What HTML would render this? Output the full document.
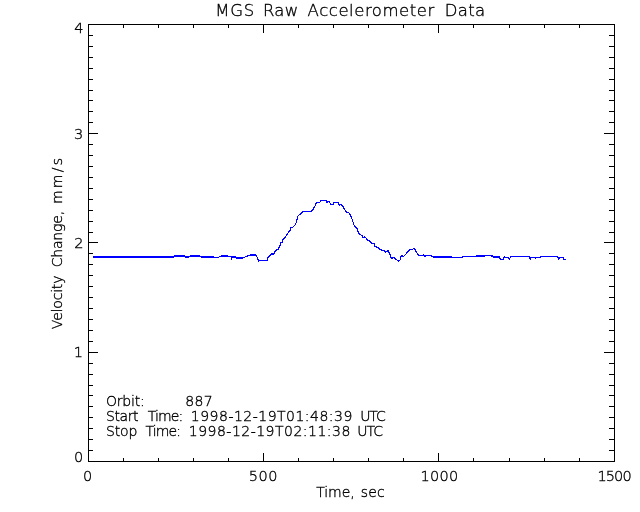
<!DOCTYPE html>
<html lang="en"><head><meta charset="utf-8"><title>MGS Raw Accelerometer Data</title>
<style>html,body{margin:0;padding:0;background:#fff}body{width:640px;height:512px;overflow:hidden}svg{display:block}text{font-family:"DejaVu Sans Light","DejaVu Sans","Liberation Sans",sans-serif;font-weight:200;fill:#000;stroke:#000;stroke-width:0.35px}</style></head><body>
<svg width="640" height="512" viewBox="0 0 640 512">
<rect width="640" height="512" fill="#fff"/>
<g fill="#000" shape-rendering="crispEdges">
<rect x="88" y="24" width="527" height="1"/>
<rect x="88" y="461" width="527" height="1"/>
<rect x="88" y="24" width="1" height="438"/>
<rect x="614" y="24" width="1" height="438"/>
<rect x="123" y="458" width="1" height="3"/>
<rect x="123" y="25" width="1" height="3"/>
<rect x="158" y="458" width="1" height="3"/>
<rect x="158" y="25" width="1" height="3"/>
<rect x="193" y="458" width="1" height="3"/>
<rect x="193" y="25" width="1" height="3"/>
<rect x="228" y="458" width="1" height="3"/>
<rect x="228" y="25" width="1" height="3"/>
<rect x="263" y="453" width="1" height="8"/>
<rect x="263" y="25" width="1" height="8"/>
<rect x="298" y="458" width="1" height="3"/>
<rect x="298" y="25" width="1" height="3"/>
<rect x="333" y="458" width="1" height="3"/>
<rect x="333" y="25" width="1" height="3"/>
<rect x="368" y="458" width="1" height="3"/>
<rect x="368" y="25" width="1" height="3"/>
<rect x="403" y="458" width="1" height="3"/>
<rect x="403" y="25" width="1" height="3"/>
<rect x="438" y="453" width="1" height="8"/>
<rect x="438" y="25" width="1" height="8"/>
<rect x="473" y="458" width="1" height="3"/>
<rect x="473" y="25" width="1" height="3"/>
<rect x="509" y="458" width="1" height="3"/>
<rect x="509" y="25" width="1" height="3"/>
<rect x="544" y="458" width="1" height="3"/>
<rect x="544" y="25" width="1" height="3"/>
<rect x="579" y="458" width="1" height="3"/>
<rect x="579" y="25" width="1" height="3"/>
<rect x="89" y="450" width="4" height="1"/>
<rect x="609" y="450" width="5" height="1"/>
<rect x="89" y="439" width="4" height="1"/>
<rect x="609" y="439" width="5" height="1"/>
<rect x="89" y="428" width="4" height="1"/>
<rect x="609" y="428" width="5" height="1"/>
<rect x="89" y="417" width="4" height="1"/>
<rect x="609" y="417" width="5" height="1"/>
<rect x="89" y="406" width="4" height="1"/>
<rect x="609" y="406" width="5" height="1"/>
<rect x="89" y="395" width="4" height="1"/>
<rect x="609" y="395" width="5" height="1"/>
<rect x="89" y="385" width="4" height="1"/>
<rect x="609" y="385" width="5" height="1"/>
<rect x="89" y="374" width="4" height="1"/>
<rect x="609" y="374" width="5" height="1"/>
<rect x="89" y="363" width="4" height="1"/>
<rect x="609" y="363" width="5" height="1"/>
<rect x="89" y="352" width="9" height="1"/>
<rect x="604" y="352" width="10" height="1"/>
<rect x="89" y="341" width="4" height="1"/>
<rect x="609" y="341" width="5" height="1"/>
<rect x="89" y="330" width="4" height="1"/>
<rect x="609" y="330" width="5" height="1"/>
<rect x="89" y="319" width="4" height="1"/>
<rect x="609" y="319" width="5" height="1"/>
<rect x="89" y="308" width="4" height="1"/>
<rect x="609" y="308" width="5" height="1"/>
<rect x="89" y="297" width="4" height="1"/>
<rect x="609" y="297" width="5" height="1"/>
<rect x="89" y="286" width="4" height="1"/>
<rect x="609" y="286" width="5" height="1"/>
<rect x="89" y="275" width="4" height="1"/>
<rect x="609" y="275" width="5" height="1"/>
<rect x="89" y="264" width="4" height="1"/>
<rect x="609" y="264" width="5" height="1"/>
<rect x="89" y="253" width="4" height="1"/>
<rect x="609" y="253" width="5" height="1"/>
<rect x="89" y="242" width="9" height="1"/>
<rect x="604" y="242" width="10" height="1"/>
<rect x="89" y="232" width="4" height="1"/>
<rect x="609" y="232" width="5" height="1"/>
<rect x="89" y="221" width="4" height="1"/>
<rect x="609" y="221" width="5" height="1"/>
<rect x="89" y="210" width="4" height="1"/>
<rect x="609" y="210" width="5" height="1"/>
<rect x="89" y="199" width="4" height="1"/>
<rect x="609" y="199" width="5" height="1"/>
<rect x="89" y="188" width="4" height="1"/>
<rect x="609" y="188" width="5" height="1"/>
<rect x="89" y="177" width="4" height="1"/>
<rect x="609" y="177" width="5" height="1"/>
<rect x="89" y="166" width="4" height="1"/>
<rect x="609" y="166" width="5" height="1"/>
<rect x="89" y="155" width="4" height="1"/>
<rect x="609" y="155" width="5" height="1"/>
<rect x="89" y="144" width="4" height="1"/>
<rect x="609" y="144" width="5" height="1"/>
<rect x="89" y="133" width="9" height="1"/>
<rect x="604" y="133" width="10" height="1"/>
<rect x="89" y="122" width="4" height="1"/>
<rect x="609" y="122" width="5" height="1"/>
<rect x="89" y="111" width="4" height="1"/>
<rect x="609" y="111" width="5" height="1"/>
<rect x="89" y="100" width="4" height="1"/>
<rect x="609" y="100" width="5" height="1"/>
<rect x="89" y="90" width="4" height="1"/>
<rect x="609" y="90" width="5" height="1"/>
<rect x="89" y="79" width="4" height="1"/>
<rect x="609" y="79" width="5" height="1"/>
<rect x="89" y="68" width="4" height="1"/>
<rect x="609" y="68" width="5" height="1"/>
<rect x="89" y="57" width="4" height="1"/>
<rect x="609" y="57" width="5" height="1"/>
<rect x="89" y="46" width="4" height="1"/>
<rect x="609" y="46" width="5" height="1"/>
<rect x="89" y="35" width="4" height="1"/>
<rect x="609" y="35" width="5" height="1"/>
</g>
<g shape-rendering="crispEdges">
<rect x="93" y="256" width="81" height="2" fill="#00f"/>
<rect x="174" y="255" width="11" height="2" fill="#00f"/>
<rect x="185" y="256" width="4" height="2" fill="#00f"/>
<rect x="189" y="256" width="1" height="1" fill="#00f"/>
<rect x="190" y="255" width="10" height="2" fill="#00f"/>
<rect x="200" y="256" width="1" height="1" fill="#00f"/>
<rect x="201" y="256" width="13" height="2" fill="#00f"/>
<rect x="214" y="257" width="5" height="1" fill="#00f"/>
<rect x="219" y="256" width="2" height="1" fill="#00f"/>
<rect x="221" y="255" width="7" height="2" fill="#00f"/>
<rect x="228" y="256" width="3" height="1" fill="#00f"/>
<rect x="231" y="256" width="1" height="4" fill="#00f"/>
<rect x="232" y="256" width="4" height="2" fill="#00f"/>
<rect x="236" y="257" width="7" height="2" fill="#00f"/>
<rect x="250" y="254" width="6" height="2" fill="#00f"/>
<rect x="433" y="257" width="18" height="1" fill="#00f"/>
<polyline points="240.00,258.50 242.50,258.00 245.00,257.00 247.50,256.00 250.60,255.00 256.00,255.00 257.50,258.00 258.75,261.00 262.50,260.25 267.00,260.25 267.75,257.50 270.00,255.60 271.00,253.90 273.75,253.90 275.60,250.50 278.10,249.25 280.00,245.75 280.60,242.60 282.50,242.00 283.10,239.50 285.60,236.75 287.50,233.90 290.60,229.50 290.60,227.60 292.50,227.60 295.60,224.25 296.90,220.10 297.50,216.40 300.00,214.25 301.25,213.90 302.75,211.50 311.25,211.50 313.75,208.25 315.25,205.75 316.50,202.60 319.75,202.25 321.25,200.10 325.60,200.10 326.90,202.00 329.40,201.75 330.60,204.25 333.50,204.25 334.00,202.60 338.10,202.60 339.40,205.10 341.50,204.50 343.75,207.75 346.00,211.90 348.75,212.50 351.25,216.90 354.40,226.00 357.25,229.00 358.50,233.10 361.90,235.60 362.90,237.50 365.00,236.90 367.50,240.00 369.40,240.60 371.90,243.50 374.00,243.75 375.00,246.50 377.50,247.50 381.25,250.00 383.75,250.25 385.60,251.90 388.10,250.60 390.00,254.40 391.50,258.75 393.75,257.50 395.60,259.30 398.75,261.00 400.00,260.00 401.25,255.60 403.75,256.25 406.25,253.75 409.40,250.00 411.90,249.75 414.00,248.50 415.60,250.60 418.10,254.75 420.00,256.00 423.25,255.00 424.50,256.00 430.75,255.60 432.60,256.60 451.00,256.60 452.00,257.50 462.00,257.50 463.25,256.40 490.00,255.80 492.50,256.00 493.00,257.00 499.40,257.00 500.60,259.30 503.00,259.30 504.00,257.00 508.75,257.50 509.40,259.30 510.60,256.90 511.25,256.25 529.40,256.25 530.25,259.00 531.00,257.25 535.00,257.25 535.25,259.30 535.80,257.25 540.00,257.25 540.60,256.25 557.50,256.25 558.50,259.30 559.75,257.50 563.10,257.50 563.75,259.30 566.00,259.30" fill="none" stroke="#00f" stroke-width="1.2" stroke-linejoin="miter"/>
</g>
<text y="16" font-size="16.5"><tspan x="215.22" textLength="38.95" lengthAdjust="spacing">MGS</tspan> <tspan x="262.98" textLength="35.24" lengthAdjust="spacing">Raw</tspan> <tspan x="307.62" textLength="126.68" lengthAdjust="spacing">Accelerometer</tspan> <tspan x="444.65" textLength="40.56" lengthAdjust="spacing">Data</tspan></text>
<text y="480.7" font-size="14.5"><tspan x="83.06">0</tspan> <tspan x="248.70" textLength="28.69" lengthAdjust="spacing">500</tspan> <tspan x="420.46" textLength="37.65" lengthAdjust="spacing">1000</tspan> <tspan x="597.43" textLength="34.25" lengthAdjust="spacing">1500</tspan></text>
<text y="32.8" font-size="14.5"><tspan x="74.36">4</tspan></text>
<text y="138.5" font-size="14.5"><tspan x="74.10">3</tspan></text>
<text y="247.7" font-size="14.5"><tspan x="74.34">2</tspan></text>
<text y="356.7" font-size="14.5"><tspan x="73.65">1</tspan></text>
<text y="461.7" font-size="14.5"><tspan x="74.06">0</tspan></text>
<text y="496.5" font-size="14"><tspan x="316.21" textLength="38.46" lengthAdjust="spacing">Time,</tspan> <tspan x="360.67" textLength="24.14" lengthAdjust="spacing">sec</tspan></text>
<text y="0" font-size="14" transform="translate(61.6,328.75) rotate(-90)"><tspan x="-0.38" textLength="53.57" lengthAdjust="spacing">Velocity</tspan> <tspan x="61.53" textLength="56.33" lengthAdjust="spacing">Change,</tspan> <tspan x="124.70" textLength="46.07" lengthAdjust="spacing">mm/s</tspan></text>
<text y="405.5" font-size="14"><tspan x="106.00" textLength="38.62" lengthAdjust="spacing">Orbit:</tspan> <tspan x="185.35" textLength="27.44" lengthAdjust="spacing">887</tspan></text>
<text y="420.5" font-size="14"><tspan x="106.00" textLength="32.44" lengthAdjust="spacing">Start</tspan> <tspan x="147.81" textLength="35.29" lengthAdjust="spacing">Time:</tspan> <tspan x="190.82" textLength="161.52" lengthAdjust="spacing">1998-12-19T01:48:39</tspan> <tspan x="360.24" textLength="25.45" lengthAdjust="spacing">UTC</tspan></text>
<text y="435.5" font-size="14"><tspan x="106.00" textLength="31.34" lengthAdjust="spacing">Stop</tspan> <tspan x="145.53" textLength="35.43" lengthAdjust="spacing">Time:</tspan> <tspan x="188.80" textLength="161.51" lengthAdjust="spacing">1998-12-19T02:11:38</tspan> <tspan x="357.24" textLength="25.87" lengthAdjust="spacing">UTC</tspan></text>
</svg>
</body></html>
